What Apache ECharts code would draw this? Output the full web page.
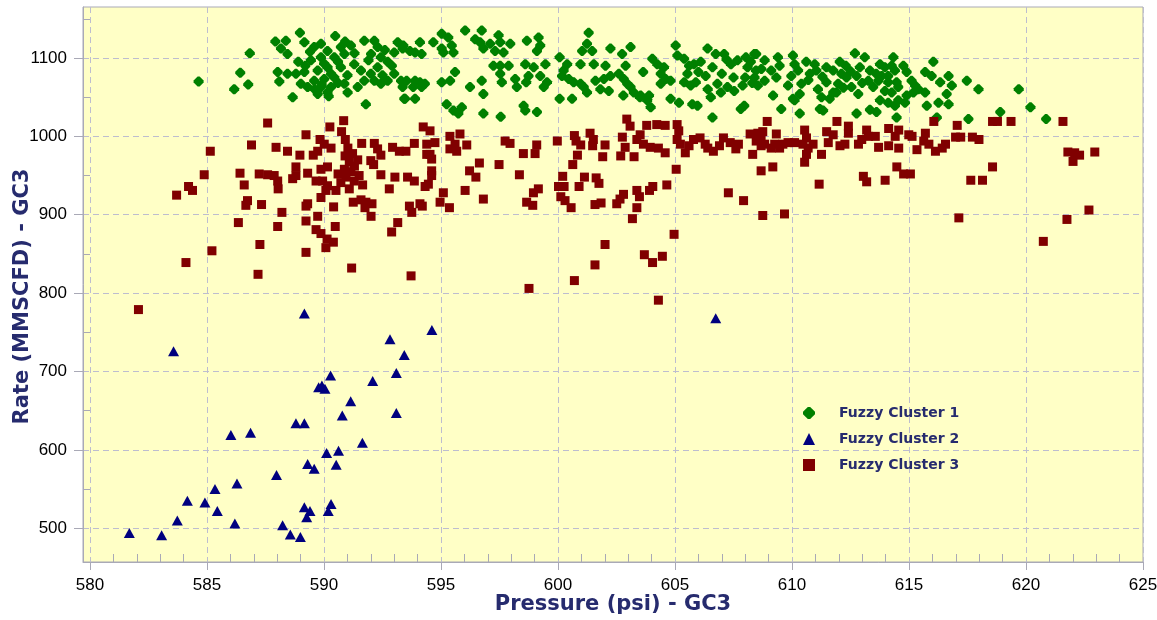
<!DOCTYPE html>
<html><head><meta charset="utf-8">
<script src="https://cdn.jsdelivr.net/npm/echarts@6/dist/echarts.min.js"></script>
<style>html,body{margin:0;padding:0;background:#fff}#c{width:1157px;height:620px}</style>
</head><body><div id="c"></div>
<script>
const xTicks = [580, 585, 590, 595, 600, 605, 610, 615, 620, 625];
const yTicks = [500, 600, 700, 800, 900, 1000, 1100];
const seriesNames = ['Fuzzy Cluster 1', 'Fuzzy Cluster 2', 'Fuzzy Cluster 3'];
const xTitle = 'Pressure (psi) - GC3';
const yTitle = 'Rate (MMSCFD) - GC3';

const cluster1 = [
[584.64,1070],[586.83,1106],[586.42,1081],[586.76,1066],[586.16,1060],
[587.92,1121],[588.16,1112],[588.37,1122],[588.97,1132],[589.16,1120],[588.44,1105],
[590.48,1128],
[588.66,1050],[588.09,1070],[588.44,1080],[588.80,1080],[589.16,1082],[588.02,1082],
[589.58,1114],[589.87,1118],[590.15,1109],[590.72,1114],[591.15,1116],
[589.44,1097],[589.87,1101],[590.44,1101],[590.87,1105],
[589.73,1084],[590.15,1088],[590.72,1088],[591.29,1092],
[589.58,1071],[590.01,1073],[590.44,1075],
[589.87,1063],[590.30,1063],[590.87,1067],
[589.73,1054],[590.15,1056],[589.30,1063],[589.01,1067],[591.01,1056],[591.44,1063],[591.58,1084],[591.72,1071],
[591.79,1041],
[591.72,1122],[592.15,1122],[592.29,1114],[592.01,1105],[592.43,1101],[592.72,1095],[592.29,1088],
[592.15,1071],[592.43,1067],[592.72,1071],[593.00,1080],[593.29,1071],[593.36,1063],[593.43,1048],
[593.15,1120],[593.36,1112],[593.00,1107],
[589.4,1108],[590.0,1093],[590.6,1095],[589.2,1090],[590.3,1080],[591.0,1078],[589.6,1060],[590.6,1068],
[590.9,1121],[589.9,1066],[590.2,1051],[588.9,1095],[591.3,1106],[591.9,1097],[592.6,1110],[592.0,1080],
[592.5,1078],[592.9,1090],
[593.39,1116],[593.67,1109],[593.89,1107],[594.17,1105],[594.10,1120],
[593.53,1071],[593.89,1071],[594.10,1069],[594.31,1067],[594.17,1063],[593.81,1063],[593.46,1048],[593.89,1048],
[594.67,1120],[595.03,1131],[595.31,1126],[595.46,1116],[595.03,1112],[595.10,1107],[595.53,1107],
[595.03,1069],[595.39,1071],[595.60,1082],[596.24,1063],
[595.24,1041],[595.53,1033],[595.89,1037],[595.74,1029],
[596.03,1135],
[596.46,1124],[596.74,1135],[596.67,1120],[596.81,1112],[597.10,1118],[597.46,1129],[597.53,1120],[597.31,1109],[597.96,1118],[597.67,1107],
[596.74,1071],[596.81,1054],[596.81,1029],[597.55,1025],
[597.24,1090],[597.53,1090],[597.89,1090],[597.60,1069],[597.53,1080],
[598.17,1073],[598.24,1063],
[598.64,1069],[598.74,1077],[598.60,1092],[598.96,1088],
[598.67,1122],[599.17,1126],[599.24,1116],[599.10,1109],
[599.46,1092],[599.24,1077],[599.53,1069],[599.39,1063],
[598.53,1039],[598.60,1033],[599.10,1031],
[600.07,1101],[600.39,1092],[600.24,1084],[600.17,1077],[600.46,1073],[600.67,1069],[600.96,1067],[601.10,1063],[601.24,1056],
[600.07,1048],[600.60,1048],
[601.31,1132],[601.24,1118],[601.03,1109],[601.46,1109],
[600.96,1092],[601.53,1092],[602.03,1090],
[601.60,1071],[601.96,1073],[602.24,1077],[602.60,1080],[602.81,1073],[602.96,1067],[603.10,1063],[603.24,1056],[603.53,1052],[603.81,1046],[603.96,1037],
[602.24,1112],[602.74,1105],[603.10,1114],[602.89,1090],
[601.81,1060],[602.17,1058],
[602.79,1052],[603.50,1050],[603.89,1052],
[603.64,1082],
[604.03,1099],[604.24,1092],[604.53,1088],[604.39,1080],[604.60,1073],[604.81,1071],[604.39,1067],
[605.03,1116],[605.10,1103],[605.39,1099],[605.60,1090],[605.81,1092],[605.53,1080],[606.10,1095],[606.39,1112],[606.74,1105],[607.10,1105],
[604.81,1048],[605.17,1043],
[605.39,1069],[605.67,1065],[605.89,1069],
[605.74,1041],[605.96,1039],
[606.60,1024],[607.81,1035],[607.96,1039],
[606.31,1077],[606.81,1067],[607.24,1063],[607.53,1058],[607.89,1065],
[607.39,1092],[607.67,1097],[608.03,1101],[608.39,1105],[608.10,1088],[608.46,1084],[608.24,1095],
[606.53,1050],[606.96,1056],
[606.0,1082],[606.6,1088],[607.0,1080],[607.5,1075],[608.0,1075],[608.3,1068],[607.2,1098],[606.4,1060],
[608.47,1105],[608.83,1097],[608.69,1086],[608.40,1075],[608.83,1071],[609.11,1084],[609.40,1101],[609.47,1090],[609.33,1075],[608.54,1065],
[609.19,1052],[609.54,1035],
[610.04,1103],[610.11,1092],[610.26,1084],[609.97,1077],[609.83,1065],[610.40,1067],[610.33,1054],
[610.11,1046],[610.04,1048],[610.33,1029],
[610.61,1095],[610.97,1092],[611.04,1084],[610.76,1080],
[611.11,1060],[611.26,1050],[611.19,1035],[611.33,1033],[611.61,1048],[611.76,1056],[611.47,1069],[611.97,1067],
[611.47,1088],[611.76,1084],[612.04,1095],[612.11,1080],[612.33,1075],
[612.69,1106],[613.11,1101],[612.90,1088],[612.76,1077],
[612.54,1063],[612.83,1054],[612.76,1029],
[613.33,1084],[613.26,1071],[613.47,1063],
[613.33,1034],[613.61,1031],
[613.76,1092],[613.97,1088],[613.83,1077],[613.69,1071],
[614.33,1101],[614.26,1090],[614.40,1084],[614.11,1077],[614.11,1069],[614.47,1069],[613.97,1058],[614.26,1056],[614.54,1063],
[613.76,1046],[614.11,1043],[614.54,1046],[614.83,1043],[614.90,1052],[614.40,1039],
[614.76,1090],[614.90,1082],[615.11,1071],[615.26,1065],[615.40,1060],[615.19,1056],
[614.47,1024],
[615.69,1082],[615.97,1077],[616.04,1095],[616.33,1069],[616.69,1077],[616.83,1065],[616.61,1054],[616.69,1041],
[615.69,1056],[615.76,1039],[616.26,1043],[616.19,1024],
[617.47,1071],[617.54,1022],[617.97,1060],[618.90,1031],[619.69,1060],[620.19,1037],[620.86,1022],
[610.7,1072],[611.3,1076],[612.3,1090],[612.5,1083],[613.0,1068],[613.6,1080],[611.9,1056],[612.2,1062]
];

const cluster2 = [
[589.16,774],[583.57,726],[594.61,753],[592.82,741],[593.43,721],[593.09,698],[592.08,688],[590.28,695],
[589.77,680],[590.04,678],[589.91,682],[591.14,662],[590.78,644],[593.09,647],[588.80,634],[589.16,634],
[586.02,619],[586.86,622],[591.64,609],[590.11,596],[590.62,599],[589.30,582],[589.58,576],[590.52,581],
[587.97,568],[586.28,557],[585.34,550],[584.16,535],[584.91,533],[585.44,522],[583.73,510],[586.19,506],
[581.68,494],[583.06,491],[588.23,504],[588.56,492],[588.99,489],[589.16,527],[589.40,522],[589.26,514],
[590.30,531],[590.18,522],[606.74,768]
];

const cluster3 = [
[587.59,1017],[586.90,989],[585.14,981],[587.95,986],[588.44,981],[588.97,976],[589.23,1002],[589.83,996],[590.25,1012],[590.84,1020],[590.75,1006],[590.91,996],
[590.01,990],[590.30,985],[589.73,981],[589.54,976],
[591.61,991],[592.15,991],[592.29,984],[592.43,976],
[592.93,986],[593.22,981],[593.50,981],[593.86,991],
[591.02,985],[591.22,978],[591.44,970],[591.08,967],[590.87,958],[591.15,955],[590.94,948],[590.72,941],[591.29,943],[591.08,933],[590.51,931],[591.65,938],
[592.00,969],[592.12,964],[592.43,951],[593.03,948],[593.57,948],[593.86,943],[592.79,933],
[588.80,961],[589.30,953],[589.87,958],[590.15,961],[588.66,946],[588.80,950],
[586.41,953],[586.59,938],
[587.23,952],[587.59,951],[587.87,950],[588.02,943],[588.04,933],
[589.66,943],[589.94,943],
[590.15,937],[590.08,931],[589.87,922],
[584.88,951],[583.70,925],[584.21,936],[584.38,931],
[586.73,918],[586.66,912],[587.33,913],[588.20,903],[589.23,911],[589.30,914],[590.41,910],
[591.25,916],[591.58,919],[591.79,916],[592.05,914],[591.75,909],[592.01,898],
[593.65,911],[593.75,903],[593.15,890],[592.89,878],
[586.34,890],[588.02,885],[589.23,892],[589.73,898],[590.48,885],
[589.66,881],[589.87,876],[590.13,869],[590.40,865],[590.08,858],
[585.21,854],[587.26,862],[589.23,852],[584.10,839],[587.18,824],[591.18,832],[593.72,822],[582.07,779],
[591.3,962],[590.9,975],[591.5,950],[590.6,952],
[594.24,1012],[594.53,1007],
[594.39,990],[594.74,992],[594.53,977],[594.60,971],[594.39,977],
[595.38,1000],[595.81,1003],[595.60,990],[595.38,984],[595.67,981],[596.10,989],
[594.60,956],[594.60,950],[594.46,939],[594.32,936],
[595.10,928],[594.96,916],
[594.10,914],[594.20,911],
[595.36,909],[596.03,931],[596.22,956],[596.49,948],[596.64,966],[596.81,920],[597.48,964],
[597.74,994],[597.95,991],[598.52,978],[599.09,989],[599.02,978],[598.35,951],[599.16,933],[598.95,928],[598.66,916],[598.92,912],
[599.97,994],[600.70,1001],[600.77,994],[600.97,989],[600.83,976],[600.63,964],
[601.37,1004],[601.51,996],[601.48,988],[602.01,989],[601.91,974],
[600.20,949],[600.02,936],[600.26,936],[600.12,923],[600.30,918],[600.56,909],
[600.90,936],[601.13,948],[601.63,947],[601.75,940],[601.58,913],[601.84,915],
[602.68,975],[602.87,986],[602.75,999],[602.94,1022],[603.08,1013],[603.25,974],
[602.51,914],[602.65,920],[602.80,926],
[603.37,931],[603.48,923],[603.37,909],[603.18,895],[603.91,931],[604.05,936],[604.65,938],[605.05,958],
[603.51,1002],[603.79,1014],[604.22,1015],[604.58,1014],[603.65,990],[603.94,986],[604.29,985],[604.58,979],[603.37,996],
[605.09,1015],[605.16,1007],[605.09,996],[605.23,990],[605.44,979],
[605.79,996],[606.07,998],[606.29,990],[606.64,981],[607.07,998],[607.36,992],[607.71,990],[608.21,1003],
[607.28,928],[607.93,918],
[604.96,875],[602.01,862],[603.69,849],[604.04,839],[604.46,847],[601.58,836],[600.70,816],[598.76,806],[604.29,791],
[606.4,985],[606.9,988],[607.6,984],[605.6,988],
[608.94,1019],
[608.54,1004],[608.75,1006],[608.68,998],[608.47,994],[608.83,990],[608.68,988],[608.32,977],
[609.33,1003],[609.26,990],[609.61,990],[609.83,992],[610.11,992],[609.47,985],[609.11,985],
[610.54,1008],[610.62,998],[610.47,990],[610.69,985],[610.62,977],[610.54,967],[610.90,990],
[611.26,977],[609.18,961],[608.68,956],[611.16,939],
[611.48,1006],[611.76,1002],[611.55,992],
[611.92,1019],[612.41,1013],[612.41,1004],[612.26,990],[612.05,988],
[612.84,990],[613.19,1008],[613.27,1000],[612.98,996],[613.56,1000],
[613.70,986],
[614.13,1010],[614.13,988],[614.56,1008],[614.56,985],[614.41,1000],[614.99,1002],[615.13,1000],
[615.34,983],[615.70,1004],[615.63,994],[615.85,990],[616.13,981],[616.42,985],[616.56,990],
[616.06,1019],
[617.06,1014],[616.99,999],[617.21,999],[617.71,999],[617.99,996],
[618.57,1019],[618.78,1019],[619.36,1019],[621.58,1019],
[614.48,961],[614.77,952],[615.06,952],
[613.05,949],[613.19,942],[613.98,944],
[617.64,944],[618.14,944],[618.57,961],
[608.75,899],[609.68,901],[617.13,896],
[621.79,980],[622.08,979],[622.29,976],[622.01,968],[622.94,980],
[622.69,906],[621.75,894],[620.74,866]
];

const xRange = [579.7, 625];
const yRange = [457, 1165];

const axisGray = '#a9a9b6';
const gridDash = '#bdbdcf';
const navy = '#262b6e';
const titleFont = {fontFamily: 'DejaVu Sans', fontWeight: 'bold', fontSize: 21, color: navy};
const tickFont = {fontFamily: 'Liberation Sans', fontSize: 17, color: '#000'};
const greenSymbol = 'path://M4,0L6,0L10,4L10,6L6,10L4,10L0,6L0,4Z';
const plain = v => String(v);

const chart = echarts.init(document.getElementById('c'), null, {renderer: 'canvas'});
chart.setOption({
  backgroundColor: '#ffffff',
  animation: false,
  grid: [
    {left: 83, right: 14, top: 7, bottom: 58, show: true, backgroundColor: '#ffffc6',
     borderColor: axisGray, borderWidth: 1, containLabel: false, outerBoundsMode: 'none'},
    {left: 90, right: 14, top: 7, bottom: 58, containLabel: false, outerBoundsMode: 'none'},
    {left: 83, right: 14, top: -20.4, bottom: 91.7, containLabel: false, outerBoundsMode: 'none'}
  ],
  legend: {
    orient: 'vertical', left: 798, top: 401, itemWidth: 12, itemHeight: 12, itemGap: 12,
    selectedMode: false, data: seriesNames, symbolKeepAspect: true,
    textStyle: {fontFamily: 'DejaVu Sans', fontWeight: 'bold', fontSize: 14, color: navy,
                padding: [0, 0, 0, 19]}
  },
  xAxis: [
    {gridIndex: 0, type: 'value', min: xRange[0], max: xRange[1], splitNumber: 9,
     axisLine: {show: true, onZero: false, lineStyle: {color: axisGray}},
     axisTick: {show: true, length: 8, customValues: xTicks, lineStyle: {color: axisGray}},
     axisLabel: {customValues: xTicks, margin: 15, formatter: plain, ...tickFont},
     splitLine: {show: true, lineStyle: {color: gridDash, width: 1, type: [6, 4]}},
     name: xTitle, nameLocation: 'middle', nameGap: 32, nameMoveOverlap: false, nameTextStyle: titleFont},
    {gridIndex: 1, type: 'value', min: 580, max: 625, interval: 5,
     axisLine: {show: false, onZero: false}, axisTick: {show: false, inside: true},
     axisLabel: {show: false}, splitLine: {show: false},
     minorTick: {show: true, splitNumber: 5, length: 8, lineStyle: {color: axisGray}}},
    {gridIndex: 2, type: 'value', show: false, min: 0, max: 1}
  ],
  yAxis: [
    {gridIndex: 0, type: 'value', min: yRange[0], max: yRange[1], splitNumber: 7,
     axisLine: {show: true, onZero: false, lineStyle: {color: axisGray}},
     axisTick: {show: true, length: 9, customValues: yTicks, lineStyle: {color: axisGray}},
     axisLabel: {customValues: yTicks, margin: 16, formatter: plain, ...tickFont},
     splitLine: {show: true, lineStyle: {color: gridDash, width: 1, type: [6, 4]}},
     name: yTitle, nameLocation: 'middle', nameGap: 50, nameMoveOverlap: false,
     nameTextStyle: Object.assign({}, titleFont, {padding: [0, 24, 0, 0]})},
    {gridIndex: 1, type: 'value', show: false, min: 0, max: 1},
    {gridIndex: 2, type: 'value', min: 500, max: 1200, interval: 100,
     axisLine: {show: false, onZero: false}, axisTick: {show: false, inside: true},
     axisLabel: {show: false}, splitLine: {show: false},
     minorTick: {show: true, splitNumber: 2, length: 7, lineStyle: {color: axisGray}}}
  ],
  series: [
    {type: 'scatter', name: seriesNames[0], xAxisIndex: 0, yAxisIndex: 0, data: cluster1,
     symbol: greenSymbol, symbolSize: 10, symbolKeepAspect: true,
     itemStyle: {color: '#008000', opacity: 1}, emphasis: {disabled: true}, z: 2},
    {type: 'scatter', name: seriesNames[1], xAxisIndex: 0, yAxisIndex: 0, data: cluster2,
     symbol: 'triangle', symbolSize: [11, 10], symbolKeepAspect: true,
     itemStyle: {color: '#00007f', opacity: 1}, emphasis: {disabled: true}, z: 3},
    {type: 'scatter', name: seriesNames[2], xAxisIndex: 0, yAxisIndex: 0, data: cluster3,
     symbol: 'rect', symbolSize: 9, symbolKeepAspect: true,
     itemStyle: {color: '#800000', opacity: 1}, emphasis: {disabled: true}, z: 4}
  ]
});
</script>
</body></html>
